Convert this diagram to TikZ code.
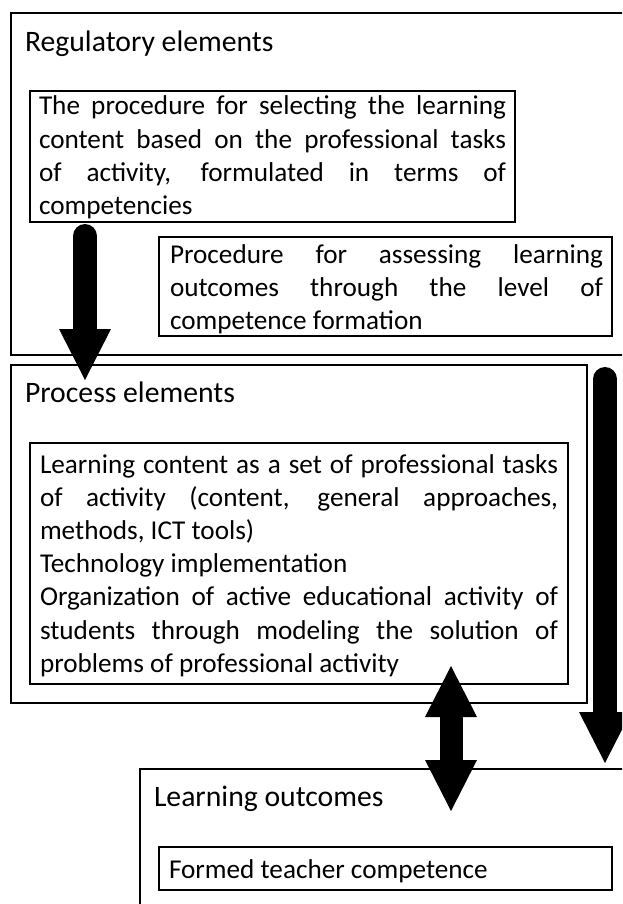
\documentclass[tikz,border=0pt]{standalone}
\usepackage{fontspec}
\setmainfont{Carlito}
\usetikzlibrary{arrows.meta}
\newcommand\diagfont{\fontsize{27.2}{33.2}\selectfont}
\newcommand\diagtitlefont{\fontsize{29.7}{36}\selectfont}
\hyphenpenalty=10000
\exhyphenpenalty=10000
\tolerance=9999
\hbadness=10000
\tikzset{bigtip/.tip={Triangle[width=52pt,length=51pt,line width=0pt]}}
\begin{document}
\begin{tikzpicture}[x=1pt,y=-1pt,
  frame/.style={draw=black, line width=1.4pt, rectangle, inner sep=0pt, outer sep=0pt, anchor=north west},
  txt/.style={anchor=base west, inner sep=0pt, outer sep=0pt, align=justify, font=\diagfont},
  ttl/.style={anchor=base west, inner sep=0pt, outer sep=0pt, font=\diagtitlefont},
  line/.style={anchor=base west, inner sep=0pt, outer sep=0pt, font=\diagfont},
  bigarrow/.style={draw=black, line width=24pt}
]
\useasboundingbox (0,0) rectangle (622,904);
\clip (0,0) rectangle (622,904);

% Regulatory elements
\node[frame, minimum width=619pt, minimum height=342pt] (reg) at (11,13) {};
\node[ttl] (regt) at (25,52) {Regulatory elements};
\node[frame, minimum width=485pt, minimum height=131pt] (selbox) at (30,91) {};
\node[txt, text width=467pt] (seltext) at (39,115) {The procedure for selecting the learning\linebreak content based on the professional tasks\linebreak of activity, formulated in terms of\linebreak competencies};
\node[frame, minimum width=453pt, minimum height=99pt] (assbox) at (159,237) {};
\node[txt, text width=433pt] (asstext) at (170,263) {Procedure for assessing learning\linebreak outcomes through the level of\linebreak competence formation};

% Process elements
\node[frame, minimum width=576pt, minimum height=338pt] (proc) at (11,365) {};
\node[ttl] (proct) at (25,402) {Process elements};
\node[frame, minimum width=538pt, minimum height=241pt] (contbox) at (30,443) {};
\node[txt, text width=518pt] (conttext) at (40,473) {Learning content as a set of professional tasks\linebreak of activity (content, general approaches,\linebreak methods, ICT tools)\par Technology implementation\par Organization of active educational activity of\linebreak students through modeling the solution of\linebreak problems of professional activity};

% Learning outcomes
\node[frame, minimum width=490pt, minimum height=150pt] (out) at (140,769) {};
\node[ttl] (outt) at (154,806) {Learning outcomes};
\node[frame, minimum width=453pt, minimum height=43pt] (compbox) at (159,847) {};
\node[line] (comptext) at (169,878) {Formed teacher competence};

% Arrows
\coordinate (a1s) at (85,236);
\coordinate (a1e) at (85,380);
\coordinate (a2s) at (605,379);
\coordinate (a2e) at (605,763);
\coordinate (a3s) at (451,666);
\coordinate (a3e) at (451,811);
\draw[bigarrow, line cap=round, -{bigtip}] (a1s) -- (a1e);
\draw[bigarrow, line cap=round, -{bigtip}] (a2s) -- (a2e);
\draw[bigarrow, line width=23pt, {bigtip}-{bigtip}] (a3s) -- (a3e);
\end{tikzpicture}
\end{document}
